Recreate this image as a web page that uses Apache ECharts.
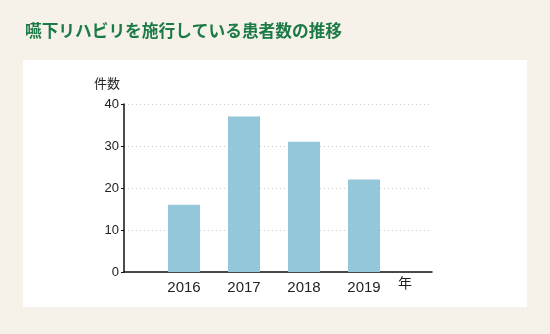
<!DOCTYPE html>
<html><head><meta charset="utf-8">
<script src="https://cdn.jsdelivr.net/npm/echarts@6/dist/echarts.min.js"></script>
<style>html,body{margin:0;padding:0;background:#f6f2ea;}#c{width:550px;height:334px;}</style>
</head><body><div id="c"></div>
<script>
const titleText = '嚥下リハビリを施行している患者数の推移';
const years = [2016, 2017, 2018, 2019];
const counts = [16, 37, 31, 22];
const yTicks = [0, 10, 20, 30, 40];
const xName = '年';
const yName = '件数';

const chart = echarts.init(document.getElementById('c'), null, {renderer: 'canvas'});
const font = '"Noto Sans CJK JP", "Noto Sans", sans-serif';
const numFont = '"Liberation Sans", Arial, sans-serif';
chart.setOption({
  backgroundColor: '#f6f2ea',
  animation: false,
  graphic: [
    {type: 'rect', shape: {x: 23, y: 60, width: 504, height: 247}, style: {fill: '#ffffff'}, z: -10},
    {type: 'text', left: 25, top: 22, style: {text: titleText, font: 'bold 16.7px ' + font, fill: '#1c7a47'}}
  ],
  grid: {left: 124, top: 104, width: 308, height: 168, containLabel: false},
  xAxis: {
    type: 'value', min: 2015, max: 2015 + 308 / 60, interval: 1,
    axisLine: {show: true, onZero: false, lineStyle: {color: '#111', width: 1.5}},
    axisTick: {show: false},
    splitLine: {show: false},
    axisLabel: {
      fontSize: 15, color: '#222', fontFamily: numFont, margin: 8,
      showMaxLabel: false,
      formatter: v => (years.indexOf(v) >= 0 ? String(v) : '')
    },
    name: xName, nameLocation: 'end', nameGap: -34,
    nameTextStyle: {fontSize: 14, color: '#222', fontFamily: font, verticalAlign: 'top', padding: [4, 0, 0, 0]}
  },
  yAxis: {
    type: 'value', min: yTicks[0], max: yTicks[yTicks.length - 1], interval: 10,
    axisLine: {show: true, lineStyle: {color: '#111', width: 1.5}},
    axisTick: {show: true, length: 3, lineStyle: {color: '#111'}},
    splitLine: {show: true, lineStyle: {color: '#cccccc', type: [1, 3], width: 1}},
    axisLabel: {fontSize: 13, color: '#222', fontFamily: numFont, margin: 5, padding: [2, 0, 0, 0]},
    name: yName, nameLocation: 'end', nameGap: 14,
    nameTextStyle: {fontSize: 13, color: '#222', fontFamily: font, align: 'right', padding: [0, 4, 0, 0]}
  },
  series: [{
    type: 'bar',
    data: years.map((y, i) => [y, counts[i]]),
    barWidth: 32,
    itemStyle: {color: '#94c7d9'}
  }]
});
</script></body></html>
